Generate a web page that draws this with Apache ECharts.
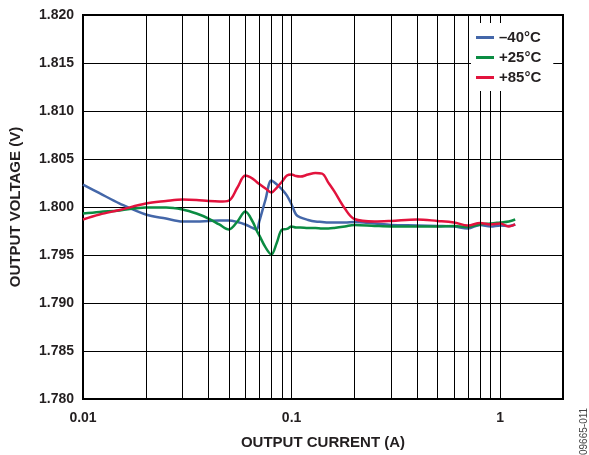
<!DOCTYPE html>
<html><head><meta charset="utf-8">
<script src="https://cdn.jsdelivr.net/npm/echarts@6/dist/echarts.min.js"></script>
<style>html,body{margin:0;padding:0;background:#fff}#c{width:589px;height:455px}</style>
</head><body><div id="c"></div>
<script>
const current = [0.01, 0.012, 0.015, 0.02, 0.025, 0.03, 0.035, 0.04, 0.045, 0.05, 0.055, 0.06, 0.065, 0.068, 0.07, 0.075, 0.08, 0.085, 0.09, 0.095, 0.1, 0.105, 0.11, 0.12, 0.13, 0.14, 0.15, 0.16, 0.18, 0.2, 0.25, 0.3, 0.4, 0.5, 0.6, 0.7, 0.8, 0.9, 1.0, 1.1, 1.18];
const vMinus40 = [1.80234, 1.80144, 1.80036, 1.79922, 1.79880, 1.79849, 1.79849, 1.79855, 1.79860, 1.79860, 1.79844, 1.79818, 1.79782, 1.79766, 1.79849, 1.80078, 1.80275, 1.80234, 1.80182, 1.80119, 1.80026, 1.79922, 1.79891, 1.79865, 1.79849, 1.79844, 1.79839, 1.79839, 1.79839, 1.79844, 1.79828, 1.79813, 1.79808, 1.79803, 1.79797, 1.79777, 1.79813, 1.79797, 1.79808, 1.79803, 1.79818];
const vPlus25 = [1.79932, 1.79948, 1.79964, 1.79995, 1.79995, 1.79974, 1.79932, 1.79880, 1.79818, 1.79766, 1.79849, 1.79953, 1.79849, 1.79756, 1.79704, 1.79579, 1.79506, 1.79631, 1.79766, 1.79772, 1.79797, 1.79787, 1.79787, 1.79782, 1.79782, 1.79777, 1.79777, 1.79782, 1.79797, 1.79813, 1.79803, 1.79797, 1.79797, 1.79797, 1.79803, 1.79792, 1.79818, 1.79828, 1.79839, 1.79849, 1.79870];
const vPlus85 = [1.79870, 1.79922, 1.79969, 1.80036, 1.80062, 1.80078, 1.80073, 1.80062, 1.80057, 1.80067, 1.80203, 1.80327, 1.80296, 1.80260, 1.80239, 1.80192, 1.80151, 1.80203, 1.80265, 1.80327, 1.80338, 1.80322, 1.80317, 1.80338, 1.80353, 1.80348, 1.80254, 1.80165, 1.79984, 1.79875, 1.79849, 1.79855, 1.79870, 1.79855, 1.79839, 1.79808, 1.79834, 1.79818, 1.79828, 1.79797, 1.79818];
const seriesNames = ['\u201340°C', '+25°C', '+85°C'];
const seriesColors = ['#4467a9', '#0b8c42', '#e2133d'];
const xTickValues = [0.01, 0.1, 1];
const xTickLabels = ['0.01', '0.1', '1'];
const xGridLines = [0.02, 0.03, 0.04, 0.05, 0.06, 0.07, 0.08, 0.09, 0.1, 0.2, 0.3, 0.4, 0.5, 0.6, 0.7, 0.8, 0.9, 1];

const chart = echarts.init(document.getElementById('c'), null, {renderer: 'canvas'});
const pair = ys => current.map((x, i) => [x, ys[i]]);
const font = 'Arial, "Liberation Sans", sans-serif';
const lines = [vMinus40, vPlus25, vPlus85].map((ys, i) => ({
  name: seriesNames[i], type: 'line', data: pair(ys), showSymbol: false, smooth: 0.35,
  lineStyle: {color: seriesColors[i], width: 2.5}, itemStyle: {color: seriesColors[i]}, z: 3
}));
chart.setOption({
  animation: false,
  backgroundColor: '#fff',
  grid: {left: 82, top: 15, right: 26, bottom: 55, show: true, borderColor: '#000', borderWidth: 2, backgroundColor: 'transparent'},
  xAxis: {
    type: 'log', logBase: 10, min: 0.01, max: 2,
    axisLine: {show: false}, axisTick: {show: false}, splitLine: {show: false},
    axisLabel: {margin: 12, fontSize: 14, fontWeight: 'bold', fontFamily: font, color: '#231f20',
      formatter: v => { const k = xTickValues.findIndex(t => Math.abs(v - t) / t < 1e-6); return k < 0 ? '' : xTickLabels[k]; }},
    name: 'OUTPUT CURRENT (A)', nameLocation: 'middle', nameGap: 36,
    nameTextStyle: {fontSize: 15, fontWeight: 'bold', fontFamily: font, color: '#231f20'}
  },
  yAxis: {
    type: 'value', min: 1.78, max: 1.82, interval: 0.005,
    axisLine: {show: false}, axisTick: {show: false},
    splitLine: {show: true, lineStyle: {color: '#000', width: 1}},
    axisLabel: {margin: 9, fontSize: 14, fontWeight: 'bold', fontFamily: font, color: '#231f20', formatter: v => v.toFixed(3)},
    name: 'OUTPUT VOLTAGE (V)', nameLocation: 'middle', nameGap: 60,
    nameTextStyle: {fontSize: 15, fontWeight: 'bold', fontFamily: font, color: '#231f20'}
  },
  legend: {
    data: seriesNames, orient: 'vertical', left: 471, top: 23,
    backgroundColor: '#fff', padding: [7, 12, 6, 5], itemGap: 5,
    icon: 'rect', itemWidth: 18, itemHeight: 3,
    textStyle: {fontSize: 15, fontWeight: 'bold', fontFamily: font, color: '#231f20'},
    selectedMode: false, z: 10
  },
  graphic: [{
    type: 'text', x: 589, y: 455, rotation: Math.PI / 2,
    style: {text: '09665-011', font: '10px Arial, "Liberation Sans", sans-serif', fill: '#444', align: 'left', verticalAlign: 'bottom'}
  }],
  series: [{
    name: 'grid', type: 'line', data: [[0.01, 1.78]], showSymbol: false, lineStyle: {opacity: 0}, silent: true, z: 2,
    markLine: {silent: true, symbol: 'none', label: {show: false}, animation: false,
      lineStyle: {color: '#000', width: 1, type: 'solid'},
      data: xGridLines.map(v => ({xAxis: v}))}
  }].concat(lines)
});
</script></body></html>
